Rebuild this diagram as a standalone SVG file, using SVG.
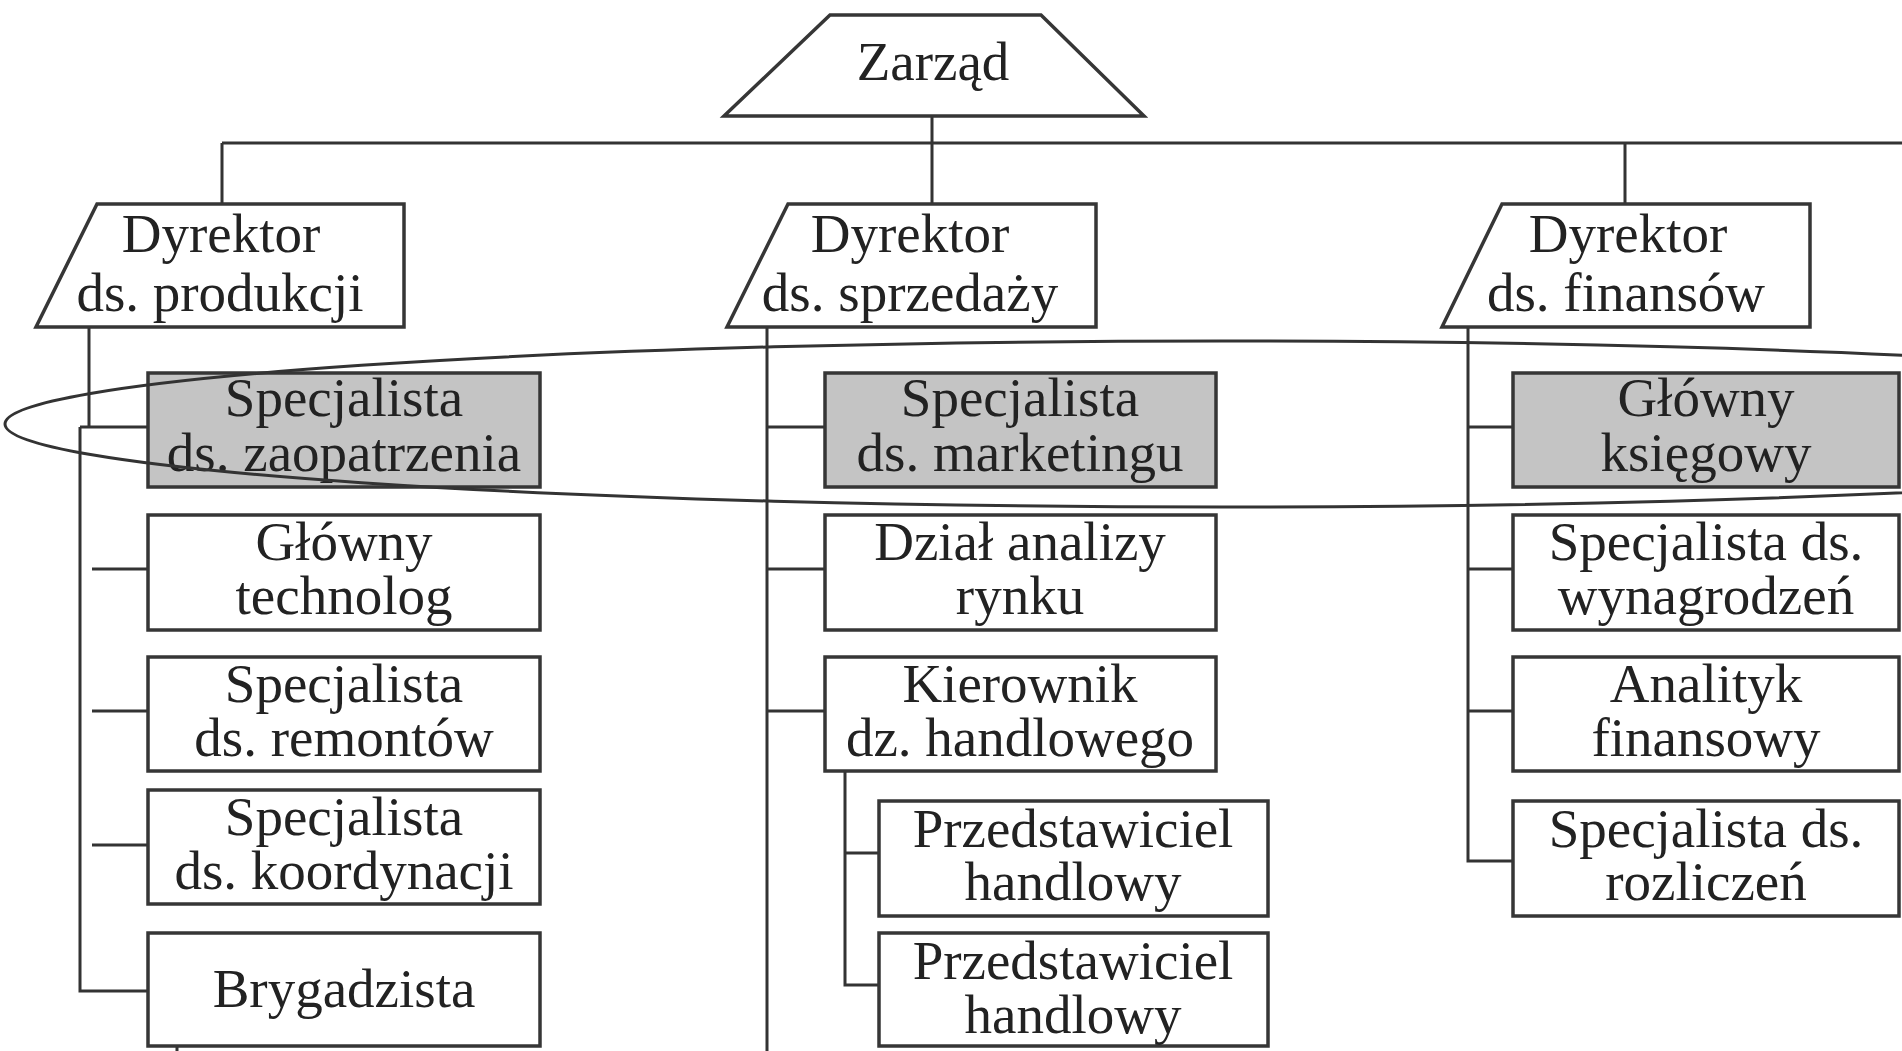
<svg xmlns="http://www.w3.org/2000/svg" width="1902" height="1051" viewBox="0 0 1902 1051">
<style>
.box{fill:#ffffff;stroke:#363636;stroke-width:3.5}
.hl{fill:#c4c4c4;stroke:#363636;stroke-width:3.5}
.ln{fill:none;stroke:#333333;stroke-width:3}
text{font-family:"Liberation Serif","Times New Roman",serif;font-size:55px;fill:#222222;text-anchor:middle}
</style>
<rect width="1902" height="1051" fill="#ffffff"/>
<g id="connectors" class="ln">
<path d="M932 116V143M222 143H1902M222 143V204M932 143V204M1625 143V204"/>
<path d="M89 327V427M80 427H148M80 427V991H148M92 569H148M92 711H148M92 845H148M177 1046V1051"/>
<path d="M767 327V1051M767 427H825M767 569H825M767 711H825M845 771V985H879M845 853H879"/>
<path d="M1468 327V861H1513M1468 427H1513M1468 569H1513M1468 711H1513"/>
</g>
<g id="zarzad"><polygon class="box" points="830,15 1041,15 1144,116 724,116"/><text x="933" y="80">Zarząd</text></g>
<g id="dyr-produkcji"><polygon class="box" points="97,204 404,204 404,327 36,327"/><text x="221" y="252">Dyrektor</text><text x="220" y="311">ds. produkcji</text></g>
<g id="dyr-sprzedazy"><polygon class="box" points="788,204 1096,204 1096,327 727,327"/><text x="910" y="252">Dyrektor</text><text x="910" y="311">ds. sprzedaży</text></g>
<g id="dyr-finansow"><polygon class="box" points="1502,204 1810,204 1810,327 1442,327"/><text x="1628" y="252">Dyrektor</text><text x="1626" y="311">ds. finansów</text></g>
<g id="spec-zaopatrzenia"><rect class="hl" x="148" y="373" width="392" height="114"/><text x="344" y="416">Specjalista</text><text x="344" y="471">ds. zaopatrzenia</text></g>
<g id="glowny-technolog"><rect class="box" x="148" y="515" width="392" height="115"/><text x="344" y="560">Główny</text><text x="344" y="614">technolog</text></g>
<g id="spec-remontow"><rect class="box" x="148" y="657" width="392" height="114"/><text x="344" y="702">Specjalista</text><text x="344" y="756">ds. remontów</text></g>
<g id="spec-koordynacji"><rect class="box" x="148" y="790" width="392" height="114"/><text x="344" y="835">Specjalista</text><text x="344" y="889">ds. koordynacji</text></g>
<g id="brygadzista"><rect class="box" x="148" y="933" width="392" height="113"/><text x="344" y="1007">Brygadzista</text></g>
<g id="spec-marketingu"><rect class="hl" x="825" y="373" width="391" height="114"/><text x="1020" y="416">Specjalista</text><text x="1020" y="471">ds. marketingu</text></g>
<g id="dzial-analizy"><rect class="box" x="825" y="515" width="391" height="115"/><text x="1020" y="560">Dział analizy</text><text x="1020" y="614">rynku</text></g>
<g id="kierownik"><rect class="box" x="825" y="657" width="391" height="114"/><text x="1020" y="702">Kierownik</text><text x="1020" y="756">dz. handlowego</text></g>
<g id="przedstawiciel-1"><rect class="box" x="879" y="801" width="389" height="115"/><text x="1073" y="847">Przedstawiciel</text><text x="1073" y="900">handlowy</text></g>
<g id="przedstawiciel-2"><rect class="box" x="879" y="933" width="389" height="113"/><text x="1073" y="979">Przedstawiciel</text><text x="1073" y="1033">handlowy</text></g>
<g id="glowny-ksiegowy"><rect class="hl" x="1513" y="373" width="386" height="114"/><text x="1706" y="416">Główny</text><text x="1706" y="471">księgowy</text></g>
<g id="spec-wynagrodzen"><rect class="box" x="1513" y="515" width="386" height="115"/><text x="1706" y="560">Specjalista ds.</text><text x="1706" y="614">wynagrodzeń</text></g>
<g id="analityk"><rect class="box" x="1513" y="657" width="386" height="114"/><text x="1706" y="702">Analityk</text><text x="1706" y="756">finansowy</text></g>
<g id="spec-rozliczen"><rect class="box" x="1513" y="801" width="386" height="115"/><text x="1706" y="847">Specjalista ds.</text><text x="1706" y="900">rozliczeń</text></g>
<ellipse id="highlight" class="ln" cx="1222" cy="424" rx="1217" ry="83"/>
</svg>
